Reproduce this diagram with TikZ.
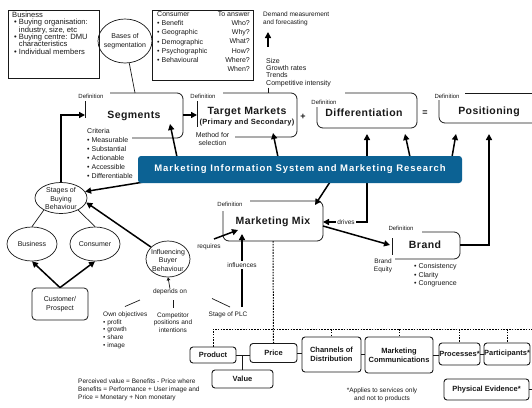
\documentclass[tikz,border=0pt]{standalone}
\usepackage{fontspec}
\setmainfont{Liberation Sans}
\newfontfamily\titlef[LetterSpace=4]{Liberation Sans}
\newfontfamily\misf[LetterSpace=10]{Liberation Sans}
\usetikzlibrary{arrows.meta,shapes.geometric}
\definecolor{misblue}{RGB}{12,98,148}
\definecolor{ink}{RGB}{25,25,25}
\begin{document}
\begin{tikzpicture}[x=1pt,y=-1pt,
  every node/.style={inner sep=0pt, text=ink},
  txt/.style={font=\fontsize{7}{8.5}\selectfont, align=left},
  sml/.style={font=\fontsize{6.5}{7.7}\selectfont, align=left},
  deflbl/.style={font=\fontsize{6}{7}\selectfont},
  ttl/.style={font=\titlef\bfseries\fontsize{10.5}{12}\selectfont},
  mixbox/.style={draw=ink, line width=0.9pt, rounded corners=3pt, font=\bfseries\fontsize{7.5}{9}\selectfont, align=center},
  ellnode/.style={draw=ink, ellipse, line width=0.7pt},
  frame/.style={draw=ink, line width=0.8pt, rounded corners=6pt},
  bar/.style={draw=ink, line width=1pt},
  thin/.style={draw=ink, line width=0.7pt},
  arr/.style={draw=black, line width=1.5pt, -{Triangle[length=6pt,width=6pt]}},
  darr/.style={draw=black, line width=1.5pt, {Triangle[length=6pt,width=6pt]}-{Triangle[length=6pt,width=6pt]}},
  dots/.style={draw=black, line width=1pt, dash pattern=on 1.6pt off 1.2pt},
  lbl/.style={font=\fontsize{6.5}{7.7}\selectfont, fill=white, inner sep=1.2pt},
]
\fill[white] (0,0) rectangle (532,407);
\useasboundingbox (0,0) rectangle (532,407);

% ---------- top boxes ----------
\draw[thin, line width=0.8pt] (8,10) rectangle (99,78);
\node[txt, anchor=north west, font=\fontsize{7.6}{7.4}\selectfont] (biztxt) at (12,11.5)
  {Business\\\hspace{2pt}• Buying organisation:\\\hspace{2pt}\hphantom{• }industry, size, etc\\\hspace{2pt}• Buying centre: DMU\\\hspace{2pt}\hphantom{• }characteristics\\\hspace{2pt}• Individual members};

\node[ellnode, minimum width=54pt, minimum height=44pt] (bases) at (125,41) {};
\node[txt, align=center] (basestxt) at (125,41) {Bases of\\segmentation};

\draw[thin, line width=0.8pt] (152,10) rectangle (253,80);
\node[txt, anchor=north west, font=\fontsize{7}{9.15}\selectfont] (contxt) at (157,11.5)
  {Consumer\\• Benefit\\• Geographic\\• Demographic\\• Psychographic\\• Behavioural};
\node[txt, anchor=north east, align=right, font=\fontsize{7}{9.15}\selectfont] (anstxt) at (250,11.5)
  {To answer\\Who?\\Why?\\What?\\How?\\Where?\\When?};

\node[sml, anchor=north west, font=\fontsize{6.5}{8}\selectfont] (demand) at (263,11.5) {Demand measurement\\and forecasting};
\node[txt, anchor=north west, font=\fontsize{7}{7.1}\selectfont] (sizes) at (266,58.5) {Size\\Growth rates\\Trends\\Competitive intensity};
\coordinate (upS) at (268,47);
\coordinate (upE) at (268,32);
\draw[arr] (upS) -- (upE);

% ---------- Segments ----------
\draw[frame] (110,93) -- (183,93) -- (183,138) -- (132,138);
\draw[bar] (85,101) -- (85,118);
\coordinate (segbar) at (85,115);
\coordinate (segT) at (135,93);
\node[deflbl] (segdef) at (91,96) {Definition};
\node[ttl] (seg) at (134,116) {Segments};
\node[txt, anchor=north west, font=\fontsize{7}{9}\selectfont] (crit) at (87,128.5)
  {Criteria\\• Measurable\\• Substantial\\• Actionable\\• Accessible\\• Differentiable};
\draw[thin] (bases) -- (segT);

% ---------- Target Markets ----------
\draw[frame] (223,93) -- (297,93) -- (297,137) -- (235,137);
\draw[bar] (197,101) -- (197,127);
\coordinate (tmbar) at (197,115);
\coordinate (segR) at (183,115);
\node[deflbl] (tmdef) at (203,96) {Definition};
\node[ttl] (tm) at (247,112) {Target Markets};
\node[font=\titlef\bfseries\fontsize{7.5}{9}\selectfont] (tmsub) at (247,123) {(Primary and Secondary)};
\node[txt, align=center, font=\fontsize{7}{8}\selectfont] (method) at (212.5,139) {Method for\\selection};
\draw[arr] (segR) -- (tmbar);
\coordinate (compT) at (268,87.5);
\coordinate (tmT) at (268,93);
\draw[thin] (compT) -- (tmT);

\node[font=\bfseries\fontsize{9}{10}\selectfont] (plus) at (303,117) {+};

% ---------- Differentiation ----------
\draw[frame] (345,93) -- (417,93) -- (417,128) -- (317,128) -- (317,107);
\node[deflbl] (diffdef) at (324,102) {Definition};
\node[ttl] (diff) at (364,113) {Differentiation};
\node[font=\bfseries\fontsize{9}{10}\selectfont] (eq) at (425,113) {=};

% ---------- Positioning ----------
\draw[frame] (465,93) -- (545,93);
\draw[frame] (439,100) -- (439,123) -- (545,123);
\node[deflbl] (posdef) at (447,96) {Definition};
\node[ttl] (pos) at (489,112) {Positioning};

% ---------- Marketing Mix ----------
\draw[frame] (250,201) -- (323,201) -- (323,241) -- (223,241) -- (223,211);
\node[deflbl] (mixdef) at (230,204) {Definition};
\node[ttl] (mix) at (273,222) {Marketing Mix};

% ---------- Brand ----------
\draw[frame] (422,232) -- (460,232) -- (460,259) -- (395,259);
\draw[bar] (392,238) -- (392,255);
\node[deflbl] (branddef) at (401,228) {Definition};
\node[ttl] (brand) at (425,245) {Brand};
\node[sml, align=center] (beq) at (383,266) {Brand\\Equity};
\node[txt, anchor=north west, font=\fontsize{7}{8.5}\selectfont] (bbul) at (414,263.5) {• Consistency\\• Clarity\\• Congruence};

% ---------- left ellipses ----------
\node[ellnode, minimum width=52pt, minimum height=31pt] (stages) at (61,198) {};
\node[txt, align=center, font=\fontsize{7}{8.8}\selectfont] (stagestxt) at (61,198.5) {Stages of\\Buying\\Behaviour};
\node[ellnode, minimum width=50pt, minimum height=34pt] (bizell) at (32,244) {};
\node[txt] (bizelltxt) at (32,244) {Business};
\node[ellnode, minimum width=50pt, minimum height=34pt] (conell) at (95,244) {};
\node[txt] (conelltxt) at (95,244) {Consumer};
\node[draw=ink, line width=0.8pt, rounded corners=4pt, minimum width=56pt, minimum height=32pt, align=center, font=\fontsize{7}{9}\selectfont] (cust) at (60,304) {Customer/\\Prospect};
\draw[thin] (stages.215) -- (bizell.north);
\draw[thin] (stages.325) -- (conell.north);
\draw[arr] (cust.north) -- (bizell.south);
\draw[arr] (cust.north) -- (conell.south);
\draw[arr] (stages.north) |- (segbar);

\node[ellnode, minimum width=44pt, minimum height=36pt] (infl) at (168,259) {};
\node[txt, align=center, font=\fontsize{7}{8.5}\selectfont] (infltxt) at (168,260) {Influencing\\Buyer\\Behaviour};
\draw[arr] (infl.145) -- (stages.350);

\node[sml] (dep) at (170,292) {depends on};
\draw[thin, -{Triangle[length=3pt,width=3.5pt]}] (dep.north) -- (infl.south);
\node[sml, anchor=north west, font=\fontsize{6.5}{7.75}\selectfont] (own) at (103,311.5) {Own objectives\\• profit\\• growth\\• share\\• image};
\node[sml, align=center, font=\fontsize{6.5}{7.7}\selectfont] (comp) at (173,322.5) {Competitor\\positions and\\intentions};
\node[sml] (plc) at (228,315) {Stage of PLC};
\coordinate (l1a) at (140,300); \coordinate (l1b) at (125,306.5);
\coordinate (l2a) at (173,300); \coordinate (l2b) at (173,307.5);
\coordinate (l3a) at (212,298.5); \coordinate (l3b) at (230,307);
\draw[thin] (l1a) -- (l1b);
\draw[thin] (l2a) -- (l2b);
\draw[thin] (l3a) -- (l3b);

% requires / influences
\coordinate (reqS) at (214,239);
\coordinate (reqE) at (238,230);
\draw[arr] (reqS) -- (reqE);
\node[sml] (req) at (209,247) {requires};
\coordinate (plcT) at (242,307);
\coordinate (mixB) at (242,234);
\draw[arr] (plcT) -- (mixB);
\node[lbl] (inflbl) at (242,265) {influences};

% drives
\coordinate (diffB) at (367,134);
\coordinate (drvC) at (367,222);
\coordinate (mixR) at (323,222);
\draw[darr] (diffB) -- (drvC) -- (mixR);
\node[lbl] (drives) at (346,222) {drives};

% mix -> brand, brand -> positioning
\coordinate (mixR2) at (323,226);
\coordinate (brandL) at (390,245);
\draw[arr] (mixR2) -- (brandL);
\coordinate (brandR) at (460,245);
\coordinate (posB) at (489,134);
\draw[arr] (brandR) -| (posB);

% arrows from MIS bar
\coordinate (m1) at (177,157); \coordinate (t1) at (170,124);
\coordinate (m2) at (278,157); \coordinate (t2) at (273,133);
\coordinate (m3) at (410,157); \coordinate (t3) at (405,134);
\coordinate (m4) at (452,157); \coordinate (t4) at (456,134);
\coordinate (m5) at (330,182); \coordinate (t5) at (315,205);
\coordinate (m6) at (150,181);
\draw[arr] (m1) -- (t1);
\draw[arr] (m2) -- (t2);
\draw[arr] (m3) -- (t3);
\draw[arr] (m4) -- (t4);
\draw[arr] (m5) -- (t5);
\draw[arr] (m6) -- (stages.15);

\node[fill=misblue, rounded corners=3pt, minimum width=324pt, minimum height=27pt, text=white,
  font=\misf\bfseries\fontsize{9.5}{11}\selectfont] (mis) at (300,169.5)
  {Marketing Information System and Marketing Research};

% ---------- marketing mix elements ----------
\node[mixbox, minimum width=46pt, minimum height=16pt] (product) at (213,355) {Product};
\node[mixbox, minimum width=47pt, minimum height=19pt] (price) at (273.5,353) {Price};
\node[mixbox, minimum width=61pt, minimum height=18pt] (value) at (242.5,379) {Value};
\node[mixbox, minimum width=59pt, minimum height=35pt] (channels) at (331.5,354.5) {Channels of\\Distribution};
\node[mixbox, minimum width=68pt, minimum height=36pt] (marcom) at (399,355) {Marketing\\Communications};
\node[mixbox, minimum width=41pt, minimum height=22pt] (processes) at (459.5,354) {Processes*};
\node[mixbox, minimum width=46pt, minimum height=22pt] (participants) at (507,354) {Participants*};
\node[mixbox, minimum width=85pt, minimum height=21pt] (physev) at (486.5,389.5) {Physical Evidence*};

\draw[thin] (product.east) -- (price.west |- product.east);
\draw[thin] (value.north |- product.east) -- (value.north);
\draw[thin] (price.east) -- (channels.west |- price.east);
\draw[thin] (channels.east) -- (marcom.west |- channels.east);
\draw[thin] (marcom.east) -- (processes.west |- marcom.east);
\draw[thin] (processes.east) -- (participants.west |- processes.east);
\coordinate (pevR) at (532,389.5);
\draw[thin] (physev.east) -- (pevR);

\coordinate (dotTop) at (273,241);
\coordinate (dotL) at (213,329);
\coordinate (dotR) at (532,329);
\draw[dots] (dotTop) -- (price.north);
\draw[dots] (product.north) -- (dotL) -- (dotR);
\draw[dots] (channels.north |- dotL) -- (channels.north);
\draw[dots] (marcom.north |- dotL) -- (marcom.north);
\draw[dots] (processes.north |- dotL) -- (processes.north);
\draw[dots] (participants.north |- dotL) -- (participants.north);

\node[sml, anchor=north west, font=\fontsize{6.5}{8}\selectfont] (perc) at (78,378.5)
  {Perceived value = Benefits - Price where\\Benefits = Performance + User image and\\Price = Monetary + Non monetary};
\node[sml, align=center, font=\fontsize{6.5}{8}\selectfont] (applies) at (382,395) {*Applies to services only\\and not to products};
\end{tikzpicture}
\end{document}
